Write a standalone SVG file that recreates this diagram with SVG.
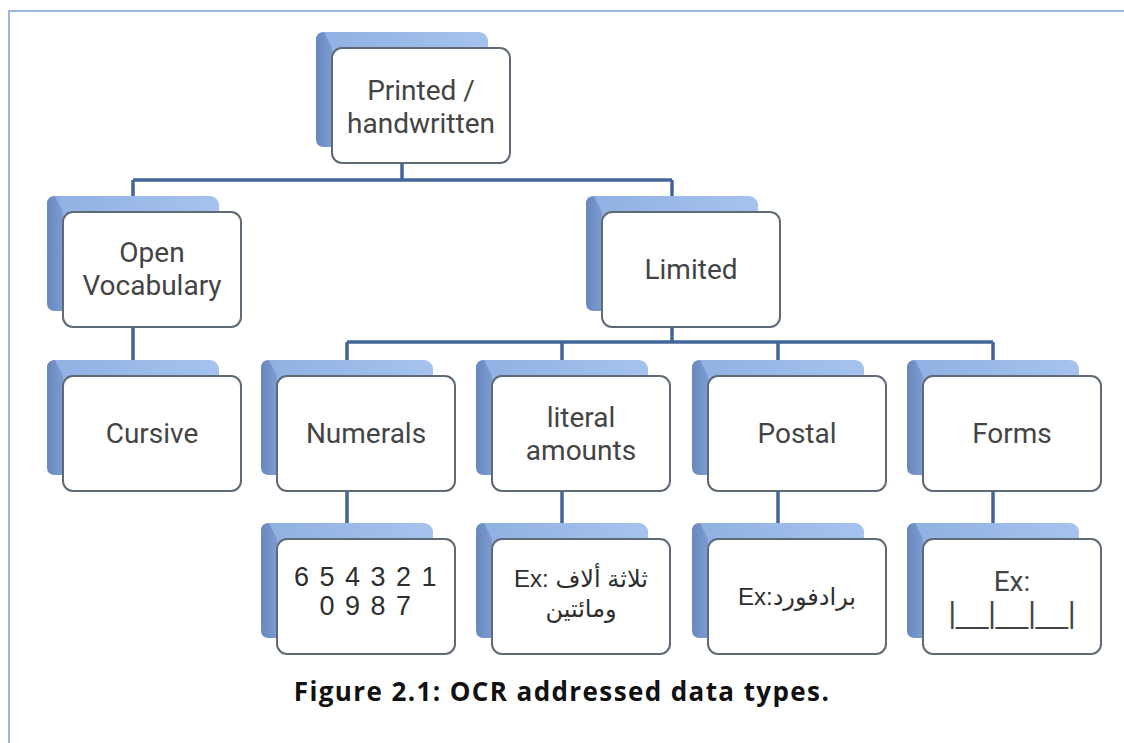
<svg xmlns="http://www.w3.org/2000/svg" xmlns:xlink="http://www.w3.org/1999/xlink" width="1124" height="743" viewBox="0 0 1124 743">
  <style>
    .frame { stroke: #9bb6dc; stroke-width: 2; fill: none; }
    .link { stroke: #44659a; stroke-width: 3.5; fill: none; stroke-linecap: butt; }
    .front { fill: #ffffff; stroke: #5f6a77; stroke-width: 2; }
    .lbl { font-family: Roboto, "Open Sans", sans-serif; font-size: 28px; fill: #444444; text-anchor: middle; }
    .ex { font-family: "Liberation Sans", "DejaVu Sans", sans-serif; font-size: 24px; fill: #2e2e2e; text-anchor: middle; }
    .bars { font-family: "Liberation Sans", sans-serif; font-size: 29px; fill: #444444; text-anchor: middle; }
    .digits { font-family: "Liberation Sans", sans-serif; font-size: 27px; fill: #2e2e2e; text-anchor: middle; letter-spacing: 1.5px; }
    .caption { font-family: "Open Sans", "Noto Sans", sans-serif; font-size: 26px; font-weight: bold; fill: #111111; text-anchor: middle; letter-spacing: 1.4px; }
  </style>
  <defs>
    <linearGradient id="backTop" x1="0" y1="0" x2="1" y2="0">
      <stop offset="0" stop-color="#8fb0e2"/>
      <stop offset="1" stop-color="#a6c3ee"/>
    </linearGradient>
    <linearGradient id="backSide" x1="0" y1="0" x2="1" y2="0">
      <stop offset="0" stop-color="#6887bd"/>
      <stop offset="1" stop-color="#7d9dd2"/>
    </linearGradient>
    <!-- raised slab drawn behind every card; local origin = card's top-left -->
    <g id="slab">
      <rect x="-16" y="-16" width="172" height="115" rx="9" fill="url(#backTop)"/>
      <path d="M -16,-8 Q -16,-16 -8,-16 L 0,0 L 0,99 L -8,99 Q -16,99 -16,91 Z" fill="url(#backSide)"/>
    </g>
    <rect id="card" x="0" y="0" width="178" height="115" rx="10" class="front"/>
  </defs>

  <!-- page border -->
  <path class="frame" d="M 9,743 L 9,11 L 1124,11"/>

  <!-- connectors -->
  <g id="connectors">
    <path class="link" d="M 402,163 V 180 M 133,180 H 672 M 133,180 V 196 M 672,180 V 196"/>
    <path class="link" d="M 133,327 V 360"/>
    <path class="link" d="M 672,327 V 342 M 347,342 H 993 M 347,342 V 360 M 562,342 V 360 M 778,342 V 360 M 993,342 V 360"/>
    <path class="link" d="M 347,491 V 523 M 562,491 V 523 M 778,491 V 523 M 993,491 V 523"/>
  </g>

  <g id="n-printed" transform="translate(332,48)">
    <use xlink:href="#slab"/><use xlink:href="#card"/>
    <text class="lbl" x="89" y="52">Printed /<tspan x="89" dy="33">handwritten</tspan></text>
  </g>

  <g id="n-open" transform="translate(63,212)">
    <use xlink:href="#slab"/><use xlink:href="#card"/>
    <text class="lbl" x="89" y="50">Open<tspan x="89" dy="33">Vocabulary</tspan></text>
  </g>

  <g id="n-limited" transform="translate(602,212)">
    <use xlink:href="#slab"/><use xlink:href="#card"/>
    <text class="lbl" x="89" y="67">Limited</text>
  </g>

  <g id="n-cursive" transform="translate(63,376)">
    <use xlink:href="#slab"/><use xlink:href="#card"/>
    <text class="lbl" x="89" y="67">Cursive</text>
  </g>

  <g id="n-numerals" transform="translate(277,376)">
    <use xlink:href="#slab"/><use xlink:href="#card"/>
    <text class="lbl" x="89" y="67">Numerals</text>
  </g>

  <g id="n-literal" transform="translate(492,376)">
    <use xlink:href="#slab"/><use xlink:href="#card"/>
    <text class="lbl" x="89" y="51">literal<tspan x="89" dy="33">amounts</tspan></text>
  </g>

  <g id="n-postal" transform="translate(708,376)">
    <use xlink:href="#slab"/><use xlink:href="#card"/>
    <text class="lbl" x="89" y="67">Postal</text>
  </g>

  <g id="n-forms" transform="translate(923,376)">
    <use xlink:href="#slab"/><use xlink:href="#card"/>
    <text class="lbl" x="89" y="67">Forms</text>
  </g>

  <g id="n-numerals-ex" transform="translate(277,539)">
    <use xlink:href="#slab"/><use xlink:href="#card"/>
    <text class="digits" x="89" y="47">6 5 4 3 2 1<tspan x="89" dy="29">0 9 8 7</tspan></text>
  </g>

  <g id="n-literal-ex" transform="translate(492,539)">
    <use xlink:href="#slab"/><use xlink:href="#card"/>
    <text class="ex" x="89" y="48">Ex: ثلاثة ألاف<tspan x="89" dy="30">ومائتين</tspan></text>
  </g>

  <g id="n-postal-ex" transform="translate(708,539)">
    <use xlink:href="#slab"/><use xlink:href="#card"/>
    <text class="ex" x="89" y="66">Ex:برادفورد</text>
  </g>

  <g id="n-forms-ex" transform="translate(923,539)">
    <use xlink:href="#slab"/><use xlink:href="#card"/>
    <text class="lbl" x="89" y="52" font-size="26">Ex:<tspan class="bars" x="89" dy="32">|__|__|__|</tspan></text>
  </g>

  <text class="caption" x="562" y="701">Figure 2.1: OCR addressed data types.</text>
</svg>
